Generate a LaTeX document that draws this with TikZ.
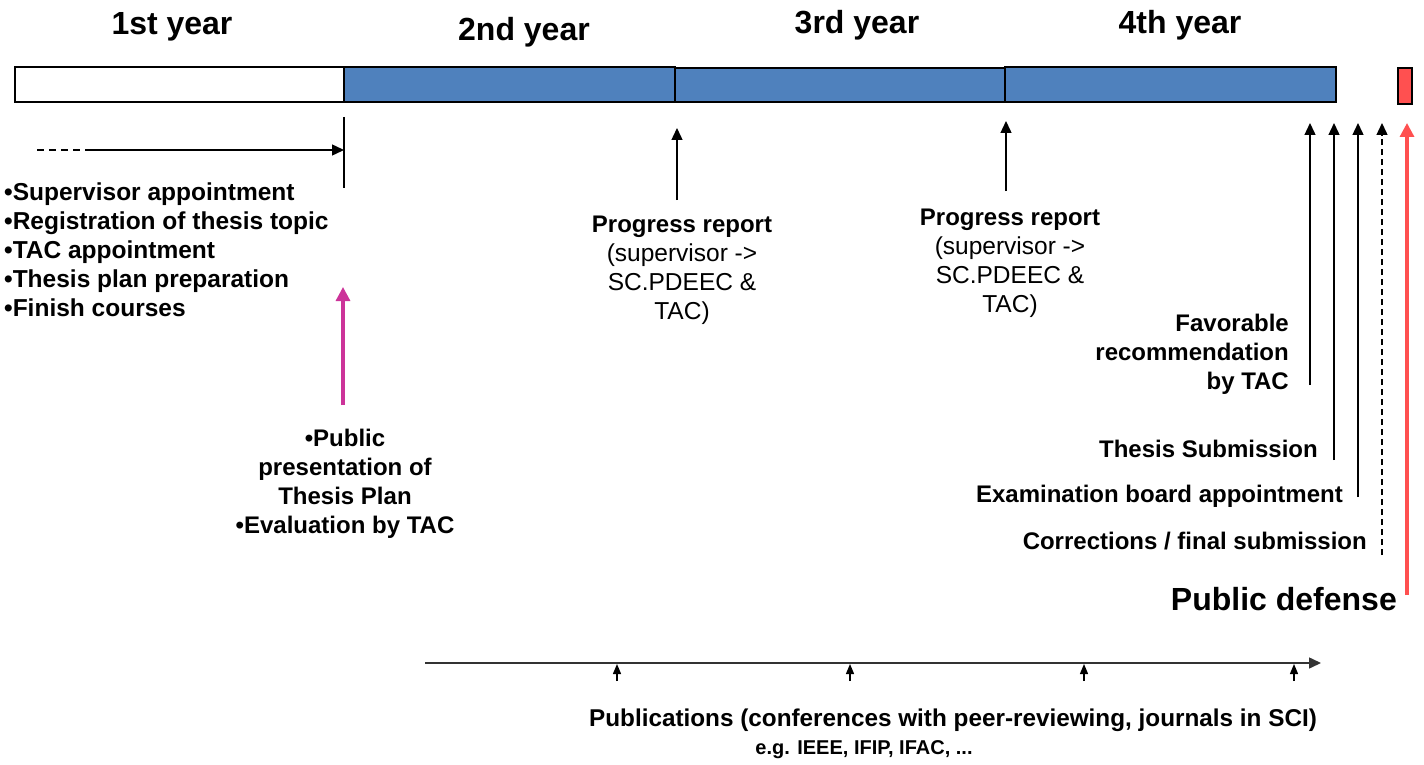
\documentclass[tikz,border=0pt]{standalone}
\usepackage{fontspec}
\setmainfont{Liberation Sans}
\usetikzlibrary{arrows.meta}
\definecolor{barblue}{HTML}{4F81BD}
\definecolor{defred}{HTML}{FF5050}
\definecolor{mag}{HTML}{CC3399}
\tikzset{
  seg/.style={draw=black, line width=1.4pt},
  tip/.style={-{Triangle[width=11pt,length=12pt]}},
  smalltip/.style={-{Triangle[width=8pt,length=10pt]}},
  conn/.style={tip, line width=1.4pt},
  thicktip/.style={-{Triangle[width=14pt,length=14pt]}, line width=3.2pt},
  yearlbl/.style={font=\bfseries\fontsize{32}{36}\selectfont, inner sep=0},
  boldtxt/.style={font=\bfseries\fontsize{24}{29}\selectfont, inner sep=0},
  regtxt/.style={font=\fontsize{24.5}{29}\selectfont, inner sep=0},
}
\begin{document}
\begin{tikzpicture}[x=1pt,y=-1pt]
\useasboundingbox (0,0) rectangle (1424,765);
% bar
\draw[seg, fill=white] (15,67) rectangle (344,102);
\draw[seg, fill=barblue] (344,67) rectangle (675,102);
\draw[seg, fill=barblue] (675,68) rectangle (1005,102);
\draw[seg, fill=barblue] (1005,67) rectangle (1336,102);
\draw[seg, fill=defred] (1398,68) rectangle (1412,104);
% years
\node[yearlbl] (y1) at (172,27) {1st year};
\node[yearlbl] (y2) at (524,32) {2nd year};
\node[yearlbl] (y3) at (857,25) {3rd year};
\node[yearlbl] (y4) at (1180,25) {4th year};
% first year
\coordinate (m1) at (344,117);
\coordinate (m2) at (344,188);
\draw[line width=1.4pt] (m1) -- (m2);
\coordinate (hs) at (37,150);
\coordinate (hm) at (90,150);
\coordinate (he) at (344,150);
\draw[line width=1.2pt, dash pattern=on 7pt off 5pt] (hs) -- (hm);
\draw[conn] (hm) -- (he);
\node[boldtxt, font=\bfseries\fontsize{24.5}{29}\selectfont, anchor=north west, align=left] (list) at (4,183)
 {•Supervisor appointment\\•Registration of thesis topic\\•TAC appointment\\•Thesis plan preparation\\•Finish courses};
\node[boldtxt, align=center, anchor=north] (pres) at (345,429)
 {•Public\\presentation of\\Thesis Plan\\•Evaluation by TAC};
\coordinate (pt) at (343,287);
\coordinate (pb) at (343,405);
\draw[thicktip, mag] (pb) -- (pt);
% progress reports
\node[regtxt, align=center, anchor=north] (pr1) at (682,216)
 {\bfseries\fontsize{24}{29}\selectfont Progress report\\(supervisor ->\\SC.PDEEC \&\\TAC)};
\coordinate (p1) at (677,128);
\coordinate (p1b) at (677,200);
\draw[conn] (p1b) -- (p1);
\node[regtxt, align=center, anchor=north] (pr2) at (1010,209)
 {\bfseries\fontsize{24}{29}\selectfont Progress report\\(supervisor ->\\SC.PDEEC \&\\TAC)};
\coordinate (p2) at (1006,121);
\coordinate (p2b) at (1006,191);
\draw[conn] (p2b) -- (p2);
% end phase
\node[boldtxt, align=right, anchor=north east] (fav) at (1289,314)
 {Favorable\\recommendation\\by TAC};
\node[boldtxt, anchor=east] (sub) at (1318,449) {Thesis Submission};
\node[boldtxt, anchor=east] (exam) at (1343,496) {Examination board appointment};
\node[boldtxt, anchor=east] (corr) at (1367,541) {Corrections / final submission};
\node[font=\bfseries\fontsize{32}{36}\selectfont, inner sep=0, anchor=east] (def) at (1397,599) {Public defense};
\coordinate (t1) at (1310,123);
\coordinate (t2) at (1334,123);
\coordinate (t3) at (1358,123);
\coordinate (t4) at (1382,123);
\coordinate (t5) at (1407,123);
\coordinate (b1) at (1310,385);
\coordinate (b2) at (1334,460);
\coordinate (b3) at (1358,497);
\coordinate (b4) at (1382,555);
\coordinate (b5) at (1407,595);
\draw[conn] (b1) -- (t1);
\draw[conn] (b2) -- (t2);
\draw[conn] (b3) -- (t3);
\draw[conn, dash pattern=on 6pt off 4pt] (b4) -- (t4);
\draw[thicktip, defred] (b5) -- (t5);
% publications
\coordinate (ps) at (425,663);
\coordinate (pe) at (1321,663);
\draw[conn, line width=1.5pt, draw=black!80, fill=black] (ps) -- (pe);
\foreach \xx/\nm in {617/a,850/b,1084/c,1294/d}{
  \coordinate (pub\nm) at (\xx,664);
  \coordinate (pubb\nm) at (\xx,681);
  \draw[smalltip, line width=1.3pt] (pubb\nm) -- (pub\nm);
}
\node[inner sep=0, font=\bfseries\fontsize{24.3}{28}\selectfont] (pubt) at (953,720) {Publications (conferences with peer-reviewing, journals in SCI)};
\node[inner sep=0, font=\bfseries\fontsize{20}{24}\selectfont] (pubs) at (864,750) {e.g. IEEE, IFIP, IFAC, ...};
\end{tikzpicture}
\end{document}
